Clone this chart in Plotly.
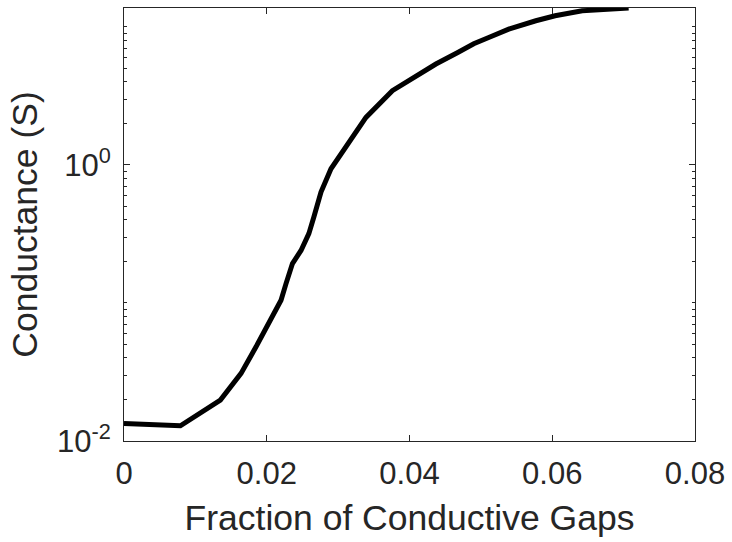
import plotly.graph_objects as go
import numpy as np

# Data
fraction = [0.0, 0.0079, 0.0135, 0.0164, 0.0185, 0.0203, 0.0220, 0.0227, 0.0236,
            0.0248, 0.0259, 0.0266, 0.0273, 0.0276, 0.0290, 0.0315, 0.0339,
            0.0376, 0.0409, 0.0437, 0.0467, 0.0490, 0.0511, 0.0539, 0.0577, 0.0604,
            0.0642, 0.0707]
conductance = [0.0134, 0.0129, 0.0198, 0.0309, 0.0481, 0.0710, 0.1047, 0.138, 0.193,
               0.240, 0.318, 0.419, 0.553, 0.635, 0.937, 1.45, 2.21,
               3.45, 4.43, 5.38, 6.50, 7.55, 8.37, 9.63, 11.07, 12.03,
               13.07, 13.7]

x_ticks = [0, 0.02, 0.04, 0.06, 0.08]
x_tick_labels = ["0", "0.02", "0.04", "0.06", "0.08"]
y_ticks = [0.01, 1]
y_tick_labels = ["10<sup>-2</sup>", "10<sup>0</sup>"]
y_minor = [m * 10.0 ** e for e in (-2, -1, 0, 1) for m in range(1, 10)]
y_minor = [v for v in y_minor if v <= 13.7]

y_range = [np.log10(0.01), np.log10(13.7)]
axis_color = "#262626"
font_family = "Liberation Sans, Arial, Helvetica, sans-serif"

fig = go.Figure()
fig.add_trace(go.Scatter(x=fraction, y=conductance, mode="lines",
                         line=dict(color="black", width=5), hoverinfo="skip",
                         showlegend=False))
fig.add_trace(go.Scatter(x=fraction, y=conductance, mode="lines", yaxis="y2",
                         line=dict(color="rgba(0,0,0,0)", width=0), hoverinfo="skip",
                         showlegend=False))

fig.update_layout(
    width=732, height=542,
    margin=dict(l=124, r=35, t=7, b=101),
    plot_bgcolor="white", paper_bgcolor="white",
    font=dict(family=font_family, color=axis_color),
    xaxis=dict(range=[0, 0.08], tickvals=x_ticks, ticktext=x_tick_labels,
               showgrid=False, zeroline=False, showline=True, linecolor=axis_color,
               linewidth=1, mirror="ticks", ticks="inside", ticklen=6,
               tickcolor=axis_color, tickfont=dict(size=31, color=axis_color),
               ticklabelstandoff=5,
               title=dict(text="Fraction of Conductive Gaps",
                          font=dict(size=35.5, color=axis_color), standoff=14)),
    yaxis=dict(type="log", range=y_range, tickvals=y_ticks, ticktext=y_tick_labels,
               showgrid=False, zeroline=False, showline=True, linecolor=axis_color,
               linewidth=1, mirror="ticks", ticks="inside", ticklen=6,
               tickcolor=axis_color, tickfont=dict(size=31, color=axis_color),
               ticklabelstandoff=6,
               title=dict(text="Conductance (S)",
                          font=dict(size=35.5, color=axis_color), standoff=8)),
    yaxis2=dict(type="log", range=y_range, overlaying="y", side="left",
                tickvals=y_minor, showticklabels=False, showgrid=False,
                zeroline=False, showline=False, mirror="ticks", ticks="inside",
                ticklen=3, tickcolor=axis_color),
)

fig.write_html("out.html")
